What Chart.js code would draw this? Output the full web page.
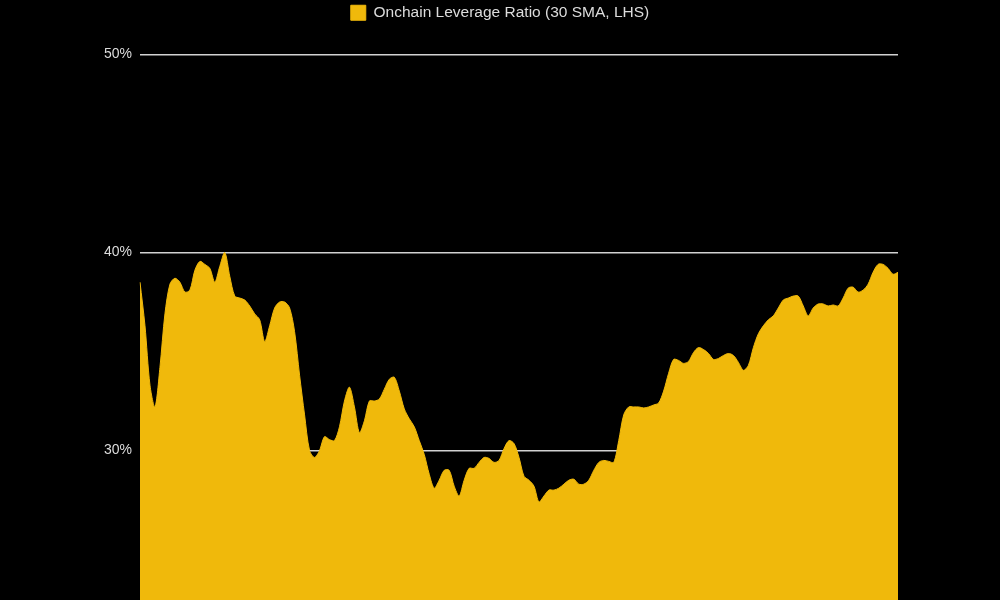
<!DOCTYPE html>
<html>
<head>
<meta charset="utf-8">
<script src="https://cdn.jsdelivr.net/npm/chart.js@4"></script>
<style>
  html, body { margin: 0; padding: 0; background: #000; overflow: hidden; }
  /* the plot runs off the bottom edge of the picture */
  #wrap { width: 1000px; height: 617px; }
</style>
</head>
<body>
<div id="wrap"><canvas id="myChart"></canvas></div>
<script>
// onchain leverage ratio, 30 day SMA, in %
var leverage = [
  38.5, 36.3, 33.3, 32.2, 34.2, 36.9, 38.4, 38.7, 38.5, 38.0,
  38.1, 39.1, 39.55, 39.4, 39.2, 38.5, 39.3, 40.0, 38.8, 37.8,
  37.7, 37.6, 37.3, 36.9, 36.6, 35.5, 36.3, 37.2, 37.5, 37.5,
  37.2, 36.0, 33.8, 31.8, 30.0, 29.65, 30.0, 30.7, 30.55, 30.5,
  31.2, 32.5, 33.2, 32.2, 30.9, 31.5, 32.5, 32.5, 32.6, 33.1,
  33.6, 33.7, 33.0, 32.1, 31.6, 31.2, 30.5, 29.8, 28.8, 28.1,
  28.5, 29.0, 29.0, 28.2, 27.7, 28.5, 29.1, 29.1, 29.4, 29.65,
  29.6, 29.4, 29.5, 30.1, 30.5, 30.35, 29.65, 28.7, 28.5, 28.2,
  27.4, 27.7, 28.0, 28.0, 28.1, 28.3, 28.5, 28.55, 28.3, 28.3,
  28.5, 29.0, 29.4, 29.5, 29.45, 29.4, 30.5, 31.8, 32.2, 32.2,
  32.2, 32.15, 32.2, 32.3, 32.4, 33.0, 33.9, 34.6, 34.55, 34.4,
  34.5, 34.95, 35.2, 35.1, 34.9, 34.6, 34.65, 34.8, 34.9, 34.8,
  34.45, 34.05, 34.3, 35.2, 35.9, 36.3, 36.6, 36.8, 37.2, 37.6,
  37.7, 37.8, 37.8, 37.3, 36.8, 37.2, 37.4, 37.4, 37.3, 37.35,
  37.3, 37.7, 38.2, 38.25, 38.0, 38.1, 38.4, 39.0, 39.4, 39.4,
  39.2, 38.9, 39.0
];
var days = leverage.map(function (v, i) { return i; });
var yTicks = [30, 40, 50];

var yellow = "#f0b90b";

// push the plot down below the legend
var legendGap = {
  id: "legendGap",
  beforeInit: function (chart) {
    var fit = chart.legend.fit;
    chart.legend.fit = function () {
      fit.bind(chart.legend)();
      this.height += 24;
    };
  }
};

new Chart("myChart", {
  type: "line",
  data: {
    labels: days,
    datasets: [{
      label: "Onchain Leverage Ratio (30 SMA, LHS)",
      data: leverage,
      backgroundColor: yellow,
      borderColor: yellow,
      borderWidth: 1,
      pointRadius: 0,
      tension: 0.3,
      fill: "start"
    }]
  },
  options: {
    responsive: true,
    maintainAspectRatio: false,
    animation: false,
    layout: { padding: 0 },
    plugins: {
      legend: {
        display: true,
        position: "top",
        labels: {
          color: "#dcdcdc",
          boxWidth: 15,
          boxHeight: 15,
          padding: 5,
          font: { family: "Liberation Sans", size: 15.5 }
        }
      },
      tooltip: { enabled: false }
    },
    scales: {
      x: { display: false },
      y: {
        min: 22.42,
        max: 50,
        afterFit: function (scale) { scale.width = 140; },
        afterBuildTicks: function (scale) {
          scale.ticks = yTicks.map(function (v) { return { value: v }; });
        },
        border: { display: false },
        grid: {
          color: "#d2d2d2",
          lineWidth: 1.5,
          drawTicks: false
        },
        ticks: {
          color: "#dcdcdc",
          padding: 8,
          font: { family: "Liberation Sans", size: 14 },
          callback: function (v) { return v + "%"; }
        }
      },
      // empty right-hand strip, keeps the legend centred on the page
      yRight: {
        position: "right",
        display: true,
        afterFit: function (scale) { scale.width = 102; },
        border: { display: false },
        grid: { display: false, drawTicks: false },
        ticks: { display: false }
      }
    }
  },
  plugins: [legendGap]
});
</script>
</body>
</html>
